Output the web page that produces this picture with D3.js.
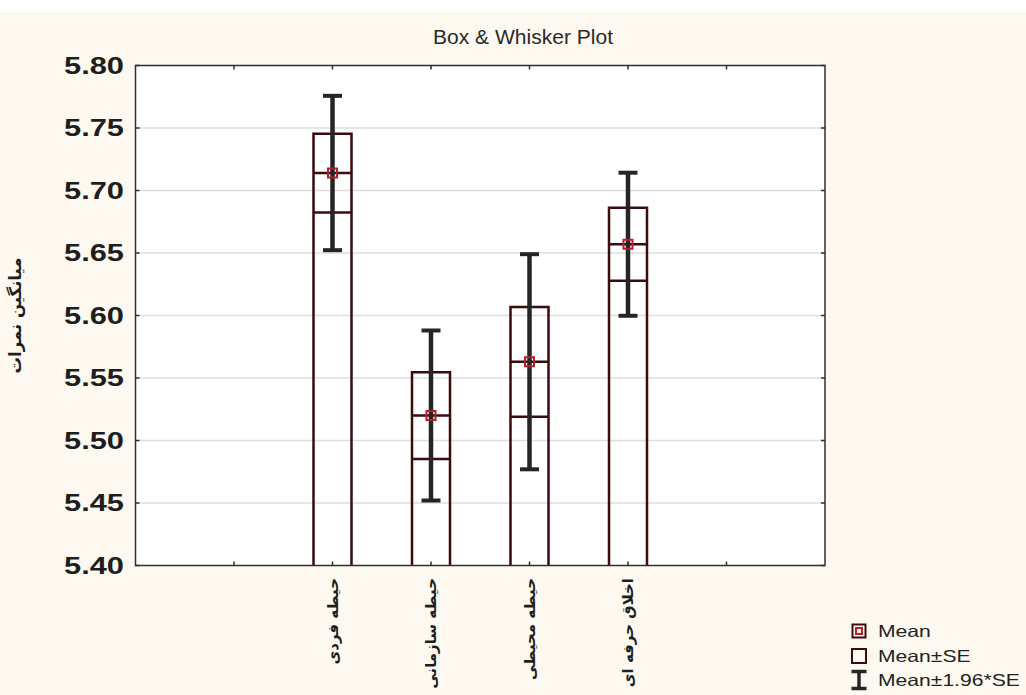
<!DOCTYPE html>
<html>
<head>
<meta charset="utf-8">
<script src="https://cdn.jsdelivr.net/npm/d3@7"></script>
<style>
  html, body { margin: 0; padding: 0; background: #ffffff; }
  svg { display: block; }
</style>
</head>
<body>
<svg id="chart" width="1026" height="695"></svg>
<script>
// Group labels (Persian), means and standard errors of the scores
const categories = ["حیطه فردی", "حیطه سازمانی", "حیطه محیطی", "اخلاق حرفه ای"];
const means = [5.714, 5.520, 5.563, 5.657];
const stdErrors = [0.0315, 0.0347, 0.0439, 0.0292];
const yTicks = [5.40, 5.45, 5.50, 5.55, 5.60, 5.65, 5.70, 5.75, 5.80];
const slotTicks = [1, 2, 3, 4, 5, 6];          // category slots along x
const categorySlots = [2, 3, 4, 5];
const legendItems = ["Mean", "Mean±SE", "Mean±1.96*SE"];
const titleText = "Box & Whisker Plot";
const yTitle = "میانگین نمرات";

const W = 1026, H = 695;
const plot = { left: 135.5, right: 825, top: 65.5, bottom: 565.5 };

const svg = d3.select("#chart");
const frameColor = "#2f2f2f";
const boxColor = "#3b0b0e";
const meanColor = "#b3202a";
const whiskerColor = "#252525";

// page background
svg.append("rect").attr("x", 0).attr("y", 12).attr("width", W).attr("height", H - 12)
  .attr("fill", "#fdf9f0");
svg.append("rect").attr("x", plot.left).attr("y", plot.top)
  .attr("width", plot.right - plot.left).attr("height", plot.bottom - plot.top)
  .attr("fill", "#ffffff");

const x = d3.scaleLinear().domain([0, 7]).range([plot.left, plot.right]);
const y = d3.scaleLinear().domain([5.40, 5.80]).range([plot.bottom, plot.top]);

// horizontal grid
svg.append("g").selectAll("line").data(yTicks.slice(1, -1)).join("line")
  .attr("x1", plot.left).attr("x2", plot.right)
  .attr("y1", d => y(d)).attr("y2", d => y(d))
  .attr("stroke", "#dedede").attr("stroke-width", 1.5);

// title
svg.append("text").attr("x", 523).attr("y", 44).attr("text-anchor", "middle")
  .attr("font-family", "Liberation Sans, Arial, sans-serif").attr("font-size", 19.5)
  .attr("textLength", 180).attr("lengthAdjust", "spacingAndGlyphs")
  .attr("fill", "#2a2a2a").text(titleText);

// boxes: sides run from the axis up to mean+SE, cross lines at mean and mean-SE
const halfBox = 19, halfCap = 9.5;
const g = svg.append("g");
categories.forEach((c, i) => {
  const cx = x(categorySlots[i]);
  const m = means[i], se = stdErrors[i];
  const top = y(m + se), low = y(m - se), mid = y(m);
  g.append("path")
    .attr("d", `M${cx - halfBox},${plot.bottom}V${top}H${cx + halfBox}V${plot.bottom}`)
    .attr("fill", "none").attr("stroke", boxColor).attr("stroke-width", 2.5);
  [mid, low].forEach(yy => g.append("line")
    .attr("x1", cx - halfBox).attr("x2", cx + halfBox).attr("y1", yy).attr("y2", yy)
    .attr("stroke", boxColor).attr("stroke-width", 2.5));
  // whisker: mean ± 1.96*SE
  const wt = y(m + 1.96 * se), wb = y(m - 1.96 * se);
  g.append("line").attr("x1", cx).attr("x2", cx).attr("y1", wt).attr("y2", wb)
    .attr("stroke", whiskerColor).attr("stroke-width", 4.5);
  [wt, wb].forEach(yy => g.append("line")
    .attr("x1", cx - halfCap).attr("x2", cx + halfCap).attr("y1", yy).attr("y2", yy)
    .attr("stroke", whiskerColor).attr("stroke-width", 4));
  // mean marker
  g.append("rect").attr("x", cx - 4.5).attr("y", mid - 4.5).attr("width", 9).attr("height", 9)
    .attr("fill", "none").attr("stroke", meanColor).attr("stroke-width", 2);
});

// frame
svg.append("rect").attr("x", plot.left).attr("y", plot.top)
  .attr("width", plot.right - plot.left).attr("height", plot.bottom - plot.top)
  .attr("fill", "none").attr("stroke", frameColor).attr("stroke-width", 1.5);

// inward ticks on all four sides
const tickLen = 4;
const ticks = svg.append("g").attr("stroke", frameColor).attr("stroke-width", 1.5);
yTicks.forEach(v => {
  ticks.append("line").attr("x1", plot.left).attr("x2", plot.left + tickLen).attr("y1", y(v)).attr("y2", y(v));
  ticks.append("line").attr("x1", plot.right).attr("x2", plot.right - tickLen).attr("y1", y(v)).attr("y2", y(v));
});
slotTicks.forEach(s => {
  ticks.append("line").attr("x1", x(s)).attr("x2", x(s)).attr("y1", plot.top).attr("y2", plot.top + tickLen);
  ticks.append("line").attr("x1", x(s)).attr("x2", x(s)).attr("y1", plot.bottom).attr("y2", plot.bottom - tickLen);
});

// y tick labels (wide bold face)
svg.append("g").selectAll("text").data(yTicks).join("text")
  .attr("x", 124).attr("y", d => y(d)).attr("dy", "0.36em")
  .attr("text-anchor", "end")
  .attr("font-family", "Liberation Sans, Arial, sans-serif").attr("font-weight", "bold")
  .attr("font-size", 23).attr("textLength", 60).attr("lengthAdjust", "spacingAndGlyphs")
  .attr("fill", "#1e1e1e")
  .text(d => d.toFixed(2));

// y axis title
svg.append("text")
  .attr("transform", `translate(15,${(plot.top + plot.bottom) / 2}) rotate(-90)`)
  .attr("text-anchor", "middle").attr("dy", "0.35em")
  .attr("font-family", "DejaVu Sans, sans-serif").attr("font-weight", "bold")
  .attr("font-size", 16.5).attr("fill", "#1e1e1e").text(yTitle);

// category labels, rotated
svg.append("g").selectAll("text").data(categories).join("text")
  .attr("transform", (d, i) => `translate(${x(categorySlots[i])},578) rotate(-90)`)
  .attr("text-anchor", "end").attr("dy", "0.35em")
  .attr("font-family", "DejaVu Sans, sans-serif").attr("font-weight", "bold")
  .attr("font-size", 15).attr("fill", "#1e1e1e").text(d => d);

// legend
const lg = svg.append("g");
const lx = 859, rows = [631, 656, 680];
lg.append("rect").attr("x", lx - 6.5).attr("y", rows[0] - 6.5).attr("width", 13).attr("height", 13)
  .attr("fill", "#fdf9f0").attr("stroke", boxColor).attr("stroke-width", 2);
lg.append("rect").attr("x", lx - 3).attr("y", rows[0] - 3).attr("width", 6).attr("height", 6)
  .attr("fill", "none").attr("stroke", meanColor).attr("stroke-width", 2);
lg.append("rect").attr("x", lx - 7).attr("y", rows[1] - 7).attr("width", 14).attr("height", 14)
  .attr("fill", "#fdf9f0").attr("stroke", boxColor).attr("stroke-width", 2);
lg.append("path").attr("d", `M${lx - 7.5},${rows[2] - 8.5}H${lx + 7.5}M${lx},${rows[2] - 8.5}V${rows[2] + 8.5}M${lx - 7.5},${rows[2] + 8.5}H${lx + 7.5}`)
  .attr("fill", "none").attr("stroke", whiskerColor).attr("stroke-width", 3.5);
// legend labels, drawn in a horizontally widened face
lg.selectAll("text").data(legendItems).join("text")
  .attr("transform", (d, i) => `translate(878,${rows[i]}) scale(1.28,1)`)
  .attr("dy", "0.36em")
  .attr("font-family", "Liberation Sans, Arial, sans-serif").attr("font-size", 16.5)
  .attr("fill", "#222").text(d => d);
</script>
</body>
</html>
